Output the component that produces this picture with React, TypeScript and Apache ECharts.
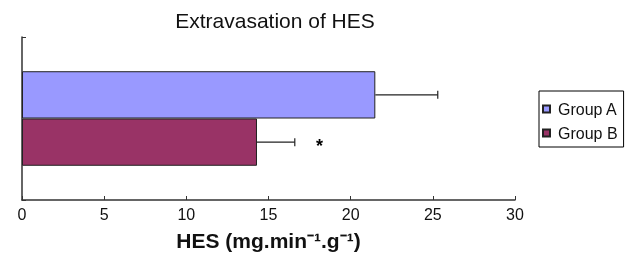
import React, { useEffect, useRef } from "react";
import * as echarts from "echarts";

const categories = [""];
const groupNames = ["Group A", "Group B"];
const groupMeans = [21.5, 14.3];
const groupUpper = [25.3, 16.6];
const starX = [null, 18.1];
const barColors = ["#9999FF", "#993366"];
const xTicks = [0, 5, 10, 15, 20, 25, 30];

const FONT = "Liberation Sans, Arial, sans-serif";

export default function App() {
  const ref = useRef<HTMLDivElement>(null);
  useEffect(() => {
    if (!ref.current) return;
    const chart = echarts.init(ref.current, undefined, { renderer: "svg" });
    const barRatio = 0.29;
    const errData = groupNames.map((_, i) => [i, groupMeans[i], groupUpper[i], starX[i]]);
    const option: any = {
      animation: false,
      textStyle: { fontFamily: FONT },
      title: {
        text: "Extravasation of HES",
        left: 270,
        textAlign: "center",
        top: 5,
        textStyle: { fontFamily: FONT, fontSize: 21, fontWeight: "normal", color: "#111" },
      },
      legend: {
        orient: "vertical",
        left: 539,
        top: 91,
        data: groupNames,
        itemWidth: 7,
        itemHeight: 7,
        itemGap: 8,
        padding: [10, 6, 6, 3],
        borderColor: "#000",
        borderWidth: 1,
        icon: "rect",
        textStyle: { fontFamily: FONT, fontSize: 16, color: "#111", padding: [0, 0, 0, 3] },
      },
      grid: { left: 22, right: 113, top: 37, bottom: 59, containLabel: false },
      xAxis: {
        type: "value",
        min: xTicks[0],
        max: xTicks[xTicks.length - 1],
        interval: 5,
        splitLine: { show: false },
        axisLine: { show: true, lineStyle: { color: "#333", width: 1.5 } },
        axisTick: { show: true, inside: true, length: 4, lineStyle: { color: "#333" } },
        axisLabel: { fontFamily: FONT, fontSize: 16, color: "#111", margin: 6 },
        name: "HES (mg.min\u207B\u00B9.g\u207B\u00B9)",
        nameLocation: "middle",
        nameGap: 30,
        nameTextStyle: { fontFamily: FONT, fontSize: 21, fontWeight: "bold", color: "#111" },
      },
      yAxis: {
        type: "category",
        data: categories,
        inverse: true,
        axisLine: { show: true, lineStyle: { color: "#333", width: 1.5 } },
        axisTick: { show: true, inside: true, length: 4, lineStyle: { color: "#333" } },
        axisLabel: { show: false },
        splitLine: { show: false },
      },
      series: [
        ...groupNames.map((name, i) => ({
          name,
          type: "bar",
          data: [groupMeans[i]],
          barWidth: barRatio * 100 + "%",
          barGap: "0%",
          itemStyle: { color: barColors[i], borderColor: "#222", borderWidth: 1 },
          z: 2,
        })),
        {
          type: "custom",
          name: "err",
          data: errData,
          z: 3,
          renderItem: (params: any, api: any) => {
            const i = api.value(0);
            const mean = api.value(1);
            const up = api.value(2);
            const star = api.value(3);
            const center = api.coord([0, 0]);
            const band = api.size([0, 1])[1];
            const bw = band * barRatio;
            const y = center[1] + (i === 0 ? -bw / 2 : bw / 2);
            const x1 = api.coord([mean, 0])[0];
            const x2 = api.coord([up, 0])[0];
            const children: any[] = [
              { type: "line", shape: { x1, y1: y, x2, y2: y }, style: { stroke: "#222", lineWidth: 1.2 } },
              { type: "line", shape: { x1: x2, y1: y - 4, x2: x2, y2: y + 4 }, style: { stroke: "#222", lineWidth: 1.2 } },
            ];
            if (star != null && !isNaN(star)) {
              const sx = api.coord([star, 0])[0];
              children.push({
                type: "text",
                style: {
                  text: "*",
                  x: sx,
                  y: y + 4,
                  align: "center",
                  verticalAlign: "middle",
                  fontFamily: FONT,
                  fontSize: 18,
                  fontWeight: "bold",
                  fill: "#000",
                },
              });
            }
            return { type: "group", children };
          },
        },
      ],
    };
    chart.setOption(option);
    return () => chart.dispose();
  }, []);
  return (
    <div
      ref={ref}
      style={{ position: "fixed", left: 0, top: 0, width: 628, height: 259 }}
    />
  );
}
